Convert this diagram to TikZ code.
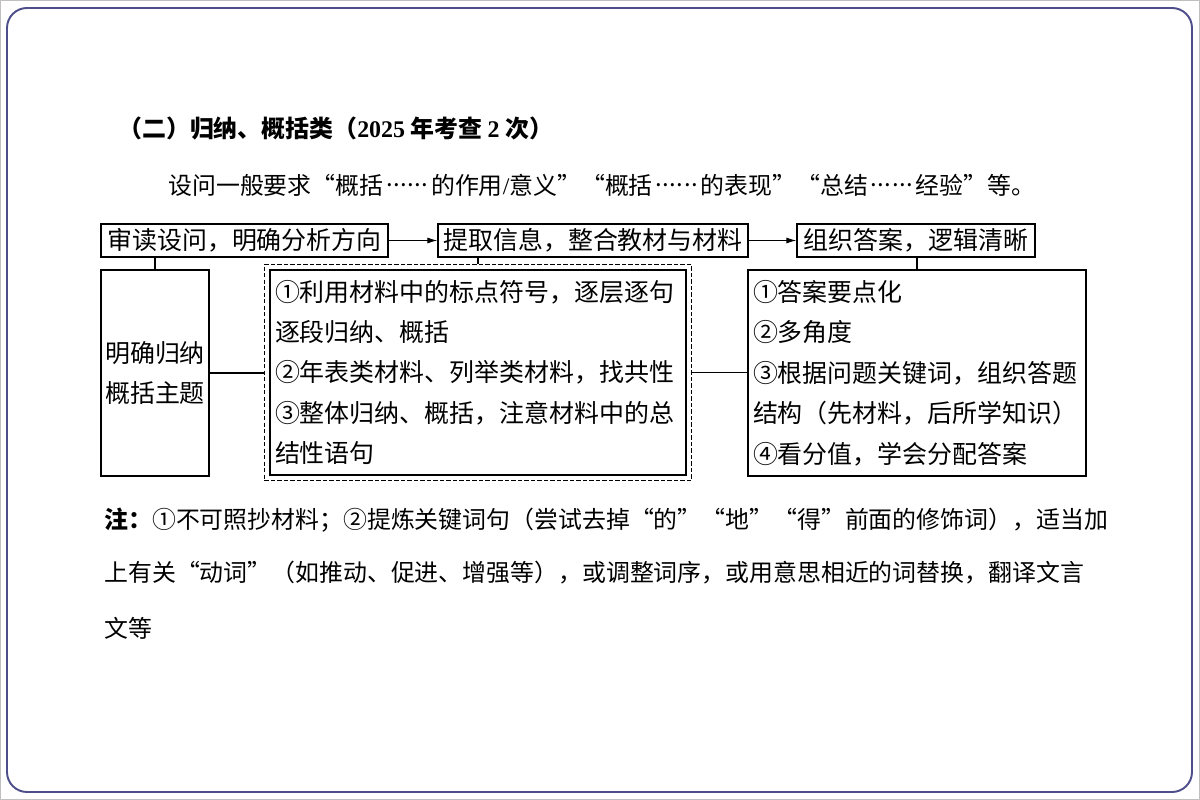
\documentclass[tikz,border=0pt]{standalone}
\usepackage{fontspec}
\setmainfont{Liberation Serif}
\newfontfamily\cjk{Noto Sans CJK SC}
\usetikzlibrary{fit, arrows.meta}
\definecolor{framecol}{RGB}{78,78,138}
\newcommand\cndots{\raisebox{0.32em}{\makebox[2em][s]{\hspace{0.12em}.\hfill.\hfill.\hfill.\hfill.\hfill.\hspace{0.12em}}}}

\begin{document}
\begin{tikzpicture}[x=0.02cm, y=-0.02cm, font=\cjk]
  \tikzset{
    topbox/.style={draw, line width=0.7pt, minimum height=0.66cm, inner sep=0pt,
                   font=\cjk\fontsize{14.2pt}{17pt}\selectfont},
    leftbox/.style={draw, line width=0.7pt, inner sep=0pt, align=center,
                    font=\cjk\fontsize{14.2pt}{23pt}\selectfont},
    listbox/.style={draw, line width=0.7pt, inner xsep=0.1cm, inner ysep=0pt, align=left,
                    font=\cjk\fontsize{14.2pt}{23pt}\selectfont},
    dashbox/.style={draw, line width=0.7pt, dash pattern=on 2.5pt off 1.2pt, inner sep=0.1cm},
    link/.style={line width=0.6pt},
    flow/.style={line width=0.6pt, -{Latex[length=2mm, width=1.2mm]}},
    note/.style={anchor=west, inner sep=0pt, font=\cjk\fontsize{13.6pt}{16pt}\selectfont}
  }
  \useasboundingbox (0,0) rectangle (1200,800);
  \draw[gray!50, line width=0.5pt] (0.5,0.5) rectangle (1199.5,799.5);
  \draw[framecol, line width=1.1pt, rounded corners=0.4cm] (7,8) rectangle (1192,792);

  % heading and question
  \node[note, font=\cjk\bfseries\fontsize{13.6pt}{16pt}\selectfont] (title) at (118,128)
       {（二）归纳、概括类（{\rmfamily 2025} 年考查 {\rmfamily 2} 次）};
  \node[note] (ask) at (168,185)
       {设问一般要求“概括\cndots 的作用{\rmfamily /}意义”“概括\cndots 的表现”“总结\cndots 经验”等。};

  % three steps
  \node[topbox, minimum width=5.74cm] (read) at (244.5,240.5) {审读设问，明确分析方向};
  \node[topbox, minimum width=6.2cm] (pick) at (593,240.5) {提取信息，整合教材与材料};
  \node[topbox, minimum width=4.76cm] (build) at (916,240.5) {组织答案，逻辑清晰};

  \node[leftbox, minimum width=2.16cm, minimum height=4.12cm] (topic) at (155,373)
       {明确归纳\\概括主题};
  \node[listbox, text width=8.12cm, minimum height=4.1cm] (steps) at (478,372.5)
       {①利用材料中的标点符号，逐层逐句\\逐段归纳、概括\\②年表类材料、列举类材料，找共性\\③整体归纳、概括，注意材料中的总\\结性语句};
  \node[dashbox, fit=(steps)] (stepsframe) {};
  \node[listbox, text width=6.56cm, minimum height=4.12cm] (answer) at (917,373)
       {①答案要点化\\②多角度\\③根据问题关键词，组织答题\\结构（先材料，后所学知识）\\④看分值，学会分配答案};

  \draw[flow] (read) -- (pick);
  \draw[flow] (pick) -- (build);
  \draw[link] (topic.north |- read.south) -- (topic.north);
  \draw[link] (stepsframe.north |- pick.south) -- (stepsframe.north);
  \draw[link] (answer.north |- build.south) -- (answer.north);
  \draw[link] (topic.east) -- (topic.east -| stepsframe.west);
  \draw[link] (stepsframe.east) -- (stepsframe.east -| answer.west);

  % note
  \node[note] (note1) at (104,520)
       {{\bfseries 注：}①不可照抄材料；②提炼关键词句（尝试去掉“的”“地”“得”前面的修饰词），适当加};
  \node[note] (note2) at (104,573)
       {上有关“动词”（如推动、促进、增强等），或调整词序，或用意思相近的词替换，翻译文言};
  \node[note] (note3) at (104,628) {文等};
\end{tikzpicture}
\end{document}
